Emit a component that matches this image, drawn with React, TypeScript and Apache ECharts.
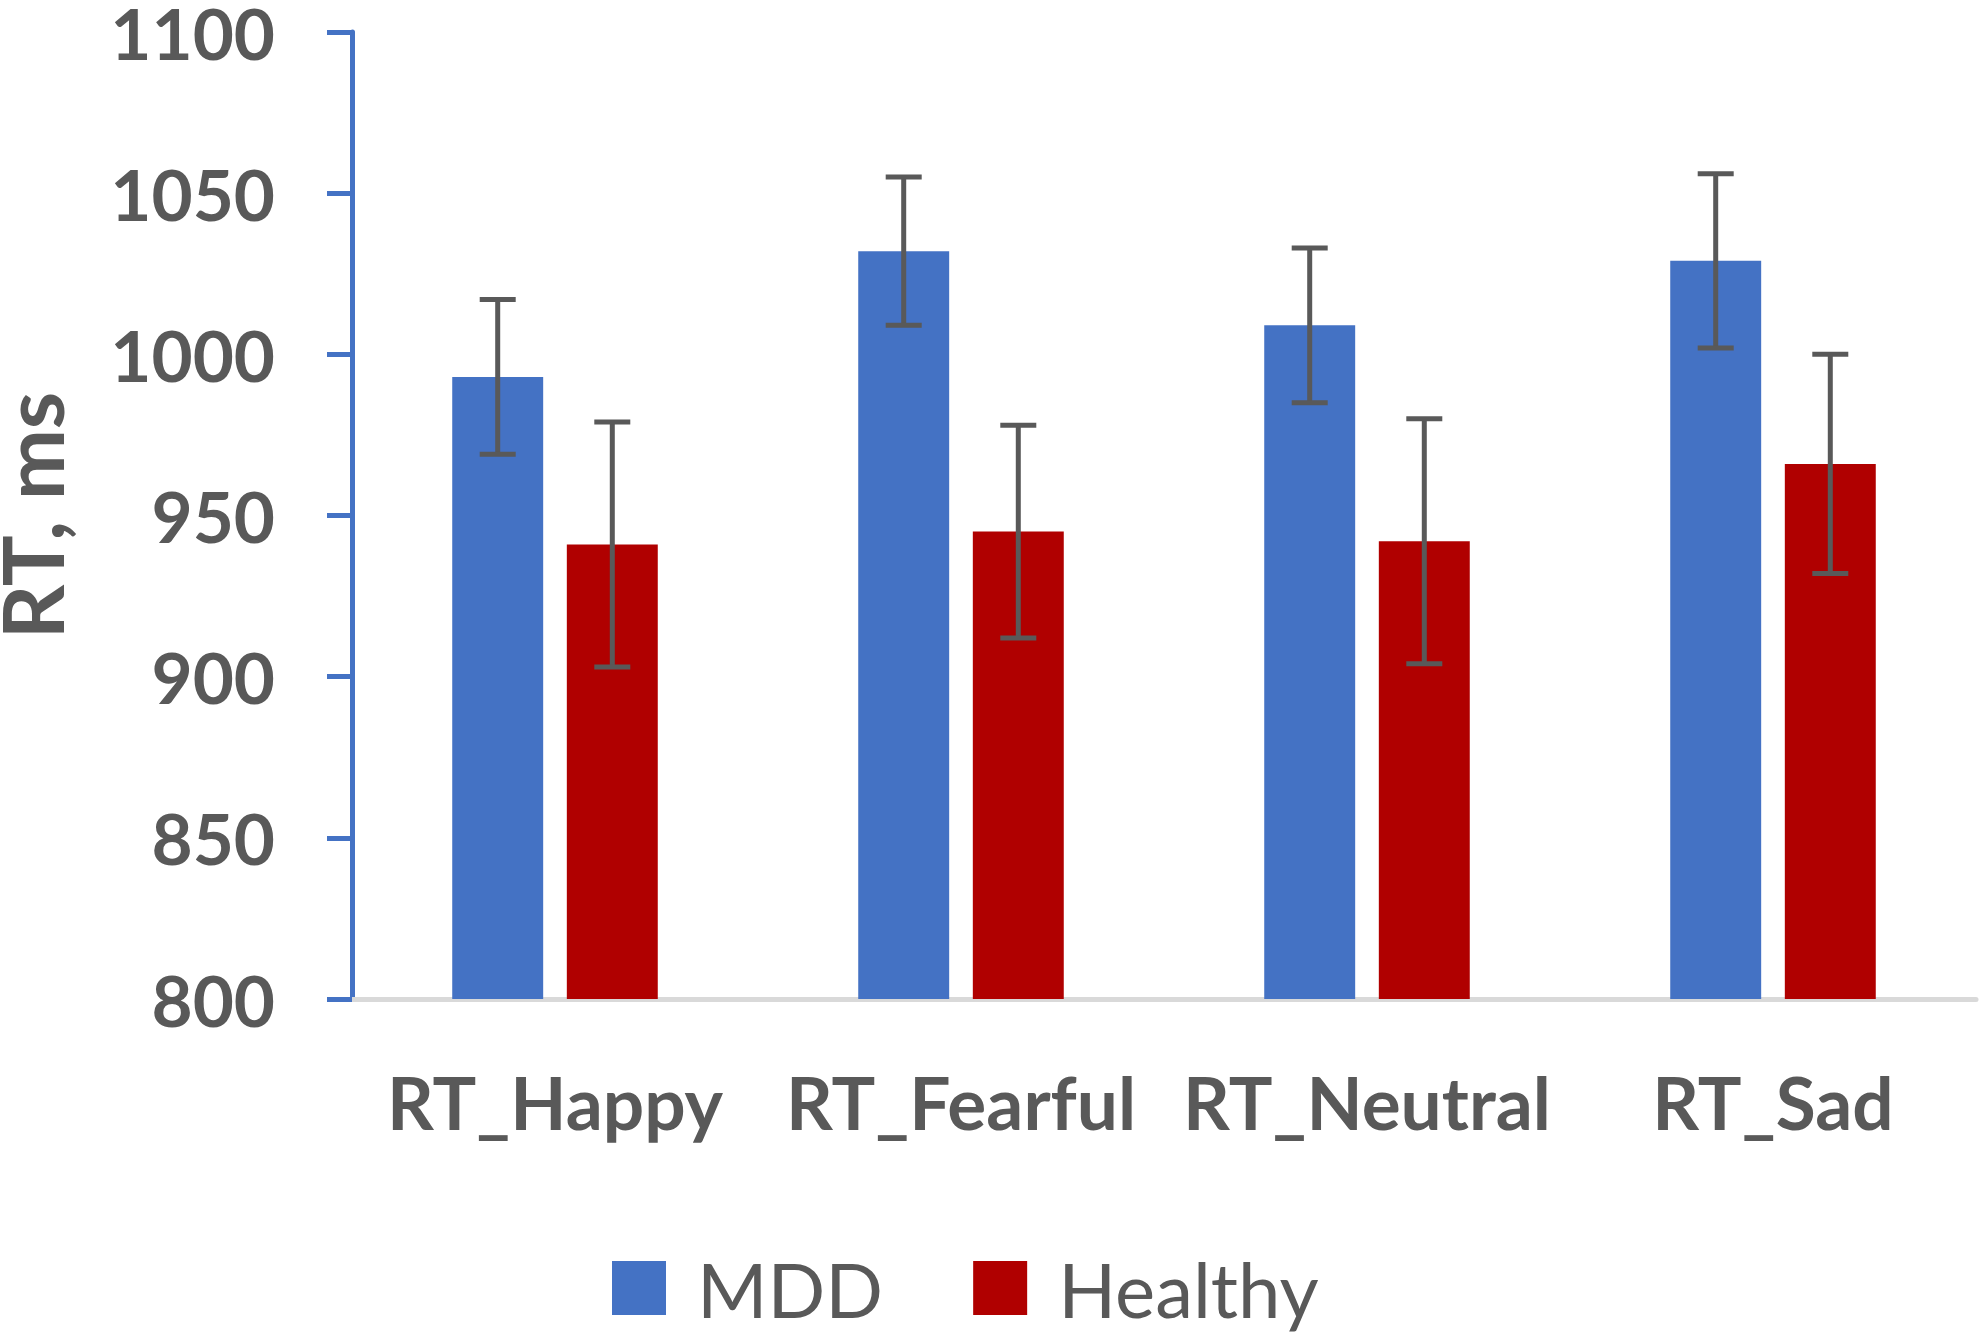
import React, { useEffect, useRef } from "react";
import * as echarts from "echarts";

const categories = ["RT_Happy", "RT_Fearful", "RT_Neutral", "RT_Sad"];
const mddMeans = [993, 1032, 1009, 1029];
const mddErrors = [24, 23, 24, 27];
const healthyMeans = [941, 945, 942, 966];
const healthyErrors = [38, 33, 38, 34];
const yMin = 800;
const yMax = 1100;
const yInterval = 50;

const BLUE = "#4472C4";
const RED = "#B00000";
const TEXT = "#595959";
const ERR = "#595959";
const FONT = "Lato, 'Open Sans', sans-serif";
const BAR_W = 0.224;
const BAR_GAP = 0.26;

function errData(means: number[], errs: number[]) {
  return means.map((m, i) => [i, m - errs[i], m + errs[i]]);
}

function makeErrRender(sign: number) {
  return (params: any, api: any) => {
    const cat = api.value(0);
    const lo = api.value(1);
    const hi = api.value(2);
    const band = api.size([1, 0])[0];
    const off = ((band * BAR_W * (1 + BAR_GAP)) / 2) * sign;
    const top = api.coord([cat, hi]);
    const bot = api.coord([cat, lo]);
    const x = top[0] + off;
    const cap = 18;
    const style = { stroke: ERR, lineWidth: 5 };
    return {
      type: "group",
      children: [
        { type: "line", shape: { x1: x, y1: top[1], x2: x, y2: bot[1] }, style },
        { type: "line", shape: { x1: x - cap, y1: top[1], x2: x + cap, y2: top[1] }, style },
        { type: "line", shape: { x1: x - cap, y1: bot[1], x2: x + cap, y2: bot[1] }, style },
      ],
    };
  };
}

export default function App() {
  const ref = useRef<HTMLDivElement>(null);
  useEffect(() => {
    if (!ref.current) return;
    const chart = echarts.init(ref.current, undefined, { renderer: "svg" });
    chart.setOption({
      animation: false,
      backgroundColor: "#ffffff",
      grid: {
        left: 352,
        right: 7,
        top: 32,
        bottom: 333,
        containLabel: false,
        outerBoundsMode: "none",
      },
      legend: {
        data: ["MDD", "Healthy"],
        left: 612,
        top: 1250,
        padding: 0,
        itemWidth: 54,
        itemHeight: 54,
        itemGap: 90,
        icon: "rect",
        textStyle: {
          fontFamily: FONT,
          fontSize: 76,
          color: TEXT,
          lineHeight: 76,
          padding: [0, 0, 0, 26],
        },
      },
      xAxis: {
        type: "category",
        data: categories,
        axisLine: { show: true, lineStyle: { color: "#D9D9D9", width: 5 } },
        axisTick: { show: false },
        axisLabel: {
          fontFamily: FONT,
          fontSize: 73,
          fontWeight: "bold",
          color: TEXT,
          margin: 66,
          interval: 0,
        },
      },
      yAxis: {
        type: "value",
        min: yMin,
        max: yMax,
        interval: yInterval,
        name: "RT, ms",
        nameLocation: "middle",
        nameRotate: 90,
        nameGap: 279,
        nameTextStyle: {
          fontFamily: FONT,
          fontSize: 85,
          fontWeight: "bold",
          color: TEXT,
        },
        axisLine: { show: true, lineStyle: { color: BLUE, width: 5 } },
        axisTick: { show: true, length: 25, lineStyle: { color: BLUE, width: 5 } },
        splitLine: { show: false },
        axisLabel: {
          fontFamily: FONT,
          fontSize: 71,
          fontWeight: "bold",
          color: TEXT,
          margin: 77,
          lineHeight: 60,
          formatter: (v: number) => String(v),
        },
      },
      series: [
        {
          name: "MDD",
          type: "bar",
          data: mddMeans,
          barWidth: `${BAR_W * 100}%`,
          barGap: `${BAR_GAP * 100}%`,
          itemStyle: { color: BLUE },
        },
        {
          name: "Healthy",
          type: "bar",
          data: healthyMeans,
          barWidth: `${BAR_W * 100}%`,
          barGap: `${BAR_GAP * 100}%`,
          itemStyle: { color: RED },
        },
        {
          name: "MDD error",
          type: "custom",
          data: errData(mddMeans, mddErrors),
          encode: { x: 0, y: [1, 2] },
          renderItem: makeErrRender(-1),
          z: 10,
        },
        {
          name: "Healthy error",
          type: "custom",
          data: errData(healthyMeans, healthyErrors),
          encode: { x: 0, y: [1, 2] },
          renderItem: makeErrRender(1),
          z: 10,
        },
      ],
    });
    return () => chart.dispose();
  }, []);
  return (
    <div
      ref={ref}
      style={{ position: "fixed", left: 0, top: 0, width: 1983, height: 1332, background: "#fff" }}
    />
  );
}
